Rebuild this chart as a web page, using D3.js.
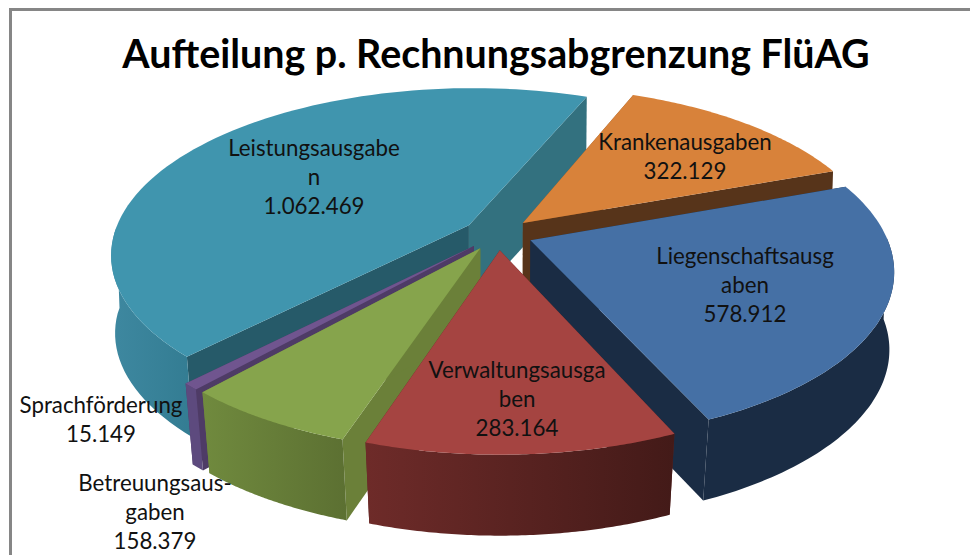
<!DOCTYPE html>
<html>
<head>
<meta charset="utf-8">
<script src="https://cdn.jsdelivr.net/npm/d3@7"></script>
<style>
  html, body { margin: 0; background: #fff; overflow: hidden; }
  text { font-family: Lato, "Noto Sans", sans-serif; fill: #111; }
</style>
</head>
<body>
<div id="chart"></div>
<script>
const title = "Aufteilung p. Rechnungsabgrenzung FlüAG";

// clockwise, starting at the orange slice
const categories = ["Krankenausgaben", "Liegenschaftsausgaben", "Verwaltungsausgaben", "Betreuungsausgaben", "Sprachförderung", "Leistungsausgaben"];
const values = [322129, 578912, 283164, 158379, 15149, 1062469];
// how the labels break in the picture
const labelLines = [
  ["Krankenausgaben"],
  ["Liegenschaftsausg", "aben"],
  ["Verwaltungsausga", "ben"],
  ["Betreuungsaus-", "gaben"],
  ["Sprachförderung"],
  ["Leistungsausgabe", "n"]
];

const width = 970;
const height = 555;

// slice colours: top, start cut, end cut, rim left, rim right
const colors = [
  ["#d8823a", "#8c5526", "#57341a", "#6b4020", "#57341a"],
  ["#4570a5", "#1a2c44", "#1a2c44", "#1a2c44", "#1a2c44"],
  ["#a54441", "#5c2523", "#5c2523", "#6e2b29", "#431a18"],
  ["#86a44c", "#6b8039", "#6b8039", "#708a3e", "#5c7032"],
  ["#70558f", "#4e3b66", "#4e3b66", "#5d4a7e", "#5d4a7e"],
  ["#4095ae", "#265a69", "#33717f", "#3e88a0", "#337c92"]
];
// label anchor: centre x, first baseline
const labelPos = [[685, 150], [745, 264], [517, 378], [155, 491], [101, 413], [314, 156]];
const drawOrder = [5, 0, 4, 3, 1, 2];

const cx = 498, cy = 234;
const radius = 355, explode = 35;
const squash = 0.46, persp = 0.00048;
const depth = 81;
const firstAngle = 22 * Math.PI / 180;

const svg = d3.select("#chart").append("svg")
  .attr("width", width)
  .attr("height", height);

svg.append("rect")
  .attr("x", 10.5).attr("y", 9.5)
  .attr("width", 1000).attr("height", 600)
  .attr("fill", "#fff")
  .attr("stroke", "#868686")
  .attr("stroke-width", 3);

svg.append("text")
  .attr("x", 496).attr("y", 68)
  .attr("text-anchor", "middle")
  .attr("font-size", 39.4)
  .attr("font-weight", 700)
  .style("fill", "#000")
  .text(title);

const pie = d3.pie().sort(null).startAngle(firstAngle).endAngle(firstAngle + 2 * Math.PI);
const arcs = pie(values);

const defs = svg.append("defs");
const line = d3.line();
const fmt = d3.formatLocale({ decimal: ",", thousands: ".", grouping: [3], currency: ["", ""] }).format(",d");

// plane coords (u right, v towards viewer) to screen
function project(u, v, bottom) {
  const s = 1 / (1 - persp * v);
  const x = u * s, y = squash * v * s;
  if (!bottom) return [cx + x, cy + y];
  // bottom face pulls in more the nearer it is
  const shrink = 0.992 - 0.016 * Math.max(v, 0) / 300;
  return [cx + x * shrink, cy + y + depth];
}

function drawSlice(i) {
  const a = arcs[i];
  const mid = (a.startAngle + a.endAngle) / 2;
  const ox = explode * Math.sin(mid), oy = -explode * Math.cos(mid);
  const point = (ang, bottom) => project(ox + radius * Math.sin(ang), oy - radius * Math.cos(ang), bottom);
  const apex = (bottom) => project(ox, oy, bottom);

  const angles = d3.range(0, 81).map((k) => a.startAngle + (a.endAngle - a.startAngle) * k / 80);
  const topRim = angles.map((t) => point(t, false));
  const c = colors[i];

  const g = svg.append("g").attr("class", "slice");

  const gradId = "rim" + i;
  const grad = defs.append("linearGradient").attr("id", gradId);
  grad.append("stop").attr("offset", "0%").attr("stop-color", c[3]);
  grad.append("stop").attr("offset", "100%").attr("stop-color", c[4]);

  g.append("path")
    .attr("d", line([apex(false), topRim[0], point(a.startAngle, true), apex(true)]) + "Z")
    .attr("fill", c[1]);
  g.append("path")
    .attr("d", line([apex(false), topRim[80], point(a.endAngle, true), apex(true)]) + "Z")
    .attr("fill", c[2]);

  // only the part of the rim that faces the viewer
  const front = angles.filter((t) => Math.cos(t) < 0.02);
  if (front.length > 1) {
    const upper = front.map((t) => point(t, false));
    const lower = front.map((t) => point(t, true)).reverse();
    g.append("path")
      .attr("d", line(upper.concat(lower)) + "Z")
      .attr("fill", `url(#${gradId})`);
  }

  g.append("path")
    .attr("d", line([apex(false)].concat(topRim)) + "Z")
    .attr("fill", c[0]);
}

drawOrder.forEach(drawSlice);

categories.forEach((name, i) => {
  const lines = labelLines[i].concat(fmt(values[i]));
  const t = svg.append("text")
    .attr("class", "label")
    .attr("text-anchor", "middle")
    .attr("font-size", 22.3);
  lines.forEach((l, k) => {
    t.append("tspan")
      .attr("x", labelPos[i][0])
      .attr("y", labelPos[i][1] + k * 29)
      .text(l);
  });
});
</script>
</body>
</html>
